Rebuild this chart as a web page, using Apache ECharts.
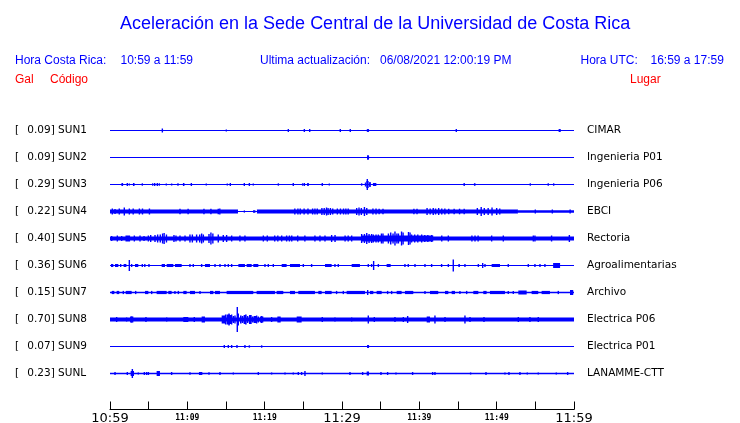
<!DOCTYPE html>
<html>
<head>
<meta charset="utf-8">
<script src="https://cdn.jsdelivr.net/npm/echarts@6/dist/echarts.min.js"></script>
<style>html,body{margin:0;padding:0;background:#fff;}#c{width:740px;height:423px;}</style>
</head>
<body>
<div id="c"></div>
<script>
// ---- labels ----
const gal = ['0.09','0.09','0.29','0.22','0.40','0.36','0.15','0.70','0.07','0.23'];
const codes = ['SUN1','SUN2','SUN3','SUN4','SUN5','SUN6','SUN7','SUN8','SUN9','SUNL'];
const places = ['CIMAR','Ingenieria P01','Ingenieria P06','EBCI','Rectoria','Agroalimentarias','Archivo','Electrica P06','Electrica P01','LANAMME-CTT'];
const tickLabels = ['10:59','11:09','11:19','11:29','11:39','11:49','11:59']; // every 10 min
// time axis: minutes after 10:59 (0..60)

// baseline trace thickness (relative amplitude units)
const baseWidth = [1, 1, 1.2, 1.2, 4.2, 1.2, 1.6, 4.2, 1, 1.3];

// bands: [startMin, endMin, halfAmplitude]
const sun1Bands = [[33.2,33.5,1.2],[58.0,58.3,1.2]];
const sun2Bands = [[33.25,33.5,1.5]];
const sun3Bands = [[1.5,1.7,1.2],[3.0,3.15,1.2],[9.45,9.6,1.2],[25.5,25.7,1.2],[32.95,33.1,2],[33.15,33.45,3.5],[33.5,33.7,2],[34.0,34.4,1.5],[47.1,47.25,1]];
const sun4Bands = [[0,16.55,2.1],[17.3,17.4,1.2],[18.5,18.8,1.3],[19.0,52.75,2.1],[52.75,60,1.3]];
const sun5Bands = [[2.0,2.6,3],[32.5,41.8,3]];
const sun6Bands = [[0.13,0.43,1.5],[0.65,1.08,1.5],[3.23,3.66,1.5],[6.68,7.11,1.5],[7.33,8.19,1.5],[8.4,9.27,1.5],[12.28,12.93,1.5],[16.6,17.45,1.5],[17.67,18.32,1.5],[18.53,19.18,1.5],[22.2,22.84,1.5],[23.27,24.57,1.5],[27.8,28.66,1.5],[31.25,32.32,1.5],[35.77,36.29,1.5],[45.04,45.25,1.5],[49.35,50.43,1.5],[57.3,58.2,2.5]];
const sun7Bands = [[0.22,0.56,1.6],[0.86,1.2,1.6],[2.03,2.8,1.6],[4.53,4.96,1.6],[6.03,7.33,1.6],[7.54,7.97,1.6],[9.48,9.91,1.6],[10.34,10.99,1.6],[12.93,13.36,1.6],[13.58,14.22,1.6],[15.08,18.53,1.6],[18.96,21.33,1.6],[21.55,22.41,1.6],[23.27,23.92,1.6],[24.35,26.5,1.6],[26.94,27.37,1.6],[27.8,28.66,1.6],[30.6,32.97,1.6],[33.62,34.05,1.6],[34.48,35.13,1.6],[37.07,37.71,1.6],[38.14,39.22,1.6],[41.38,42.45,1.6],[43.32,43.75,1.6],[44.18,44.61,1.6],[46.98,47.63,1.6],[48.27,48.7,1.6],[49.13,51.07,1.6],[52.8,53.88,2],[54.52,55.38,1.6],[55.81,56.89,1.6],[59.48,59.9,2.5]];
const sun8Bands = [[2.59,3.02,3],[9.48,10.13,2.5],[11.85,12.28,3],[14.44,14.87,4],[15.08,15.52,5],[16.81,17.02,4],[17.45,17.67,5],[17.97,18.32,4.5],[19.4,19.83,3],[21.64,22.07,3],[24.14,24.78,3],[40.95,41.38,3]];
const sun9Bands = [[33.25,33.5,1.5]];
const sunLBands = [[2.67,3.1,2.5],[6.03,6.46,2.5],[11.5,11.94,1.5],[33.19,33.49,2]];

// spikes: [minute, halfAmplitude]
const sun1Spikes = [[6.77,2],[15.04,1],[23.06,1.5],[25.13,1.5],[25.82,1.5],[29.78,1.5],[31.07,1.5],[33.36,1.5],[44.78,1.5],[58.14,1.5]];
const sun2Spikes = [[33.36,2.5]];
const sun3Spikes = [[1.59,1.5],[2.24,1.5],[2.5,1],[3.06,1.5],[4.18,1.2],[5.52,1.2],[5.78,1.5],[6.12,1.5],[6.38,1.2],[7.28,1],[7.97,1],[8.79,1.2],[9.52,1.5],[10.52,1.5],[12.45,1],[15.17,1],[15.56,1.5],[17.37,1.5],[18.02,1.5],[18.53,1],[21.77,1.2],[23.7,1.5],[24.91,1.2],[25.13,1.5],[25.6,1.5],[27.45,1.5],[28.36,1],[32.54,1.2],[33.27,5.5],[33.62,2.5],[34.35,1.5],[45.8,1.5],[47.15,1.2],[54.35,1.2],[56.67,1.2],[57.37,1.2]];
const sun4Spikes = [[0.3,3],[0.65,2.5],[1.2,3],[1.85,4],[2.5,3],[3.0,3],[3.8,3],[4.2,3],[5.1,3],[9.05,2.8],[10.1,2.8],[12.15,2.8],[13.05,2.8],[14.0,2.8],[14.2,3],
  [23.9,3],[24.3,3],[24.6,3],[25.1,3],[25.6,3],[26.2,3],[26.5,3],[26.8,3],[27.4,3.5],[27.7,3.5],[28.0,4],[28.2,3.5],[28.5,3.5],[28.8,3],[29.4,3],[29.8,3],[30.2,3],[30.5,3],[30.8,3],
  [31.9,3.5],[32.2,4],[32.5,3.5],[32.9,4.5],[33.2,3.5],[34.0,3],[34.4,3],[34.8,2.8],[35.3,2.8],[39.3,2.8],[39.7,2.8],
  [41.0,3.5],[41.4,3],[41.8,3.5],[42.1,3],[42.5,3.5],[42.9,3],[43.3,3],[43.8,2.8],[44.5,2.8],[45.2,2.8],[45.8,2.8],
  [47.5,3.5],[48.0,4.5],[48.4,3.5],[48.9,3.5],[49.4,4],[50.0,3.5],[50.4,3],[55.0,2],[57.2,2],[59.5,2]];
const sun5Spikes = [[0.22,2.5],[0.95,3],[1.51,2.5],[3.15,3],[3.88,3],[4.4,2.5],[4.96,3],[5.26,3.5],[5.82,3.5],[6.16,4],[6.5,4],[6.8,5],[7.0,5.5],[7.3,4],[8.27,3.5],[8.53,3],[9.05,3],[9.7,3],[10.34,4],[10.65,4],
  [11.2,4],[11.6,4],[11.85,5],[12.07,4],[12.8,4.5],[13.05,6],[13.3,5],[14.0,4],[14.65,3.5],[15.08,3.5],[15.73,3],[16.8,3],[17.45,3],[19.83,3],[20.34,3],[21.3,3],[21.7,3],[22.2,3],[22.84,3],[23.2,3],[23.5,3],
  [24.27,3],[25.2,3],[26.5,3],[27.15,3],[27.8,3],[28.66,3.5],[29.1,3.5],[30.4,3],[30.8,3],[31.25,3],[32.54,4.5],[32.9,4.5],[33.2,5.5],[33.5,4.5],[33.83,4.5],[34.05,4],[34.4,4],[34.7,4],[35.1,5],[35.3,5],
  [36.0,5],[36.3,6],[36.6,5],[36.85,7],[37.1,5],[37.3,5],[37.7,7],[37.9,6],[38.6,6.5],[38.8,6],[39.0,4],[39.4,4],[39.8,4],[40.3,4],[40.7,3.5],[41.1,3.5],[41.6,3.5],
  [42.9,3],[43.75,3],[46.8,3],[47.2,3],[47.6,3],[49.35,3],[50.86,3],[54.74,3],[54.95,3],[57.1,3],[59.4,3.5]];
const sun6Spikes = [[1.38,1.5],[1.85,1.5],[2.03,1.5],[2.5,5.5],[2.8,1.5],[4.18,1.5],[4.5,1.5],[5.04,1.5],[10.34,1.5],[10.77,1.5],[11.85,1.5],[13.58,1.5],[14.22,1.5],[14.87,1.5],[15.3,1.5],[15.73,1.5],[20.04,1.5],[20.47,1.5],[21.12,1.5],[25.0,1.5],[26.07,1.5],[29.09,1.5],[29.52,1.5],
  [33.4,1.5],[33.83,1.5],[34.09,4.5],[34.7,1.5],[38.14,1.5],[38.57,1.5],[39.44,1.5],[40.73,1.5],[41.59,1.5],[42.88,1.5],[43.75,1.5],[44.39,6],[45.9,1.5],[47.63,1.5],[48.19,2.5],[48.49,1.5],[51.5,1.5],[54.09,1.5],[54.95,1.5],[55.6,1.5],[56.24,1.5]];
const sun7Spikes = [[1.72,1.6],[3.32,1.6],[5.39,1.6],[8.4,1.6],[8.84,1.6],[11.64,1.6],[29.3,1.6],[30.17,1.6],[33.32,2.5],[35.9,1.6],[36.42,1.6],[40.73,1.6],[45.25,1.6],[46.12,1.6],[51.5,1.6],[52.15,1.6],[57.97,1.6]];
const sun8Spikes = [[0.86,2.5],[2.15,2],[2.8,3],[4.65,2.5],[7.33,2],[10.9,2.5],[14.65,3.5],[14.95,5],[15.21,4],[15.39,6],[15.6,4.5],[15.73,5],[15.95,3.5],[16.16,4],[16.46,12.5],[16.59,6],[17.15,3.5],[17.37,4.5],[17.8,3.5],[18.15,4.5],[18.45,3],[18.66,3.5],[18.83,3.5],[18.96,4],[19.18,3],[19.61,3.5],
  [20.9,2.5],[27.45,2.5],[29.09,2],[31.25,2],[33.4,4],[34.18,2.5],[36.85,2.5],[37.93,2.5],[38.49,3.5],[42.02,4],[43.32,2.5],[45.9,4],[46.55,2.5],[48.36,2.5],[52.8,2.5],[54.3,2.5],[55.38,2.5]];
const sun9Spikes = [[14.78,1.5],[15.3,1.5],[15.73,1.5],[16.42,1.5],[17.45,1.5],[18.02,1.2],[19.61,1.2],[33.36,1.5]];
const sunLSpikes = [[0.65,1.5],[2.24,1.5],[2.89,4.5],[3.66,1],[4.44,1.5],[4.74,1.5],[4.96,1.5],[7.97,1.5],[10.34,1.2],[12.8,1.2],[14.22,1.5],[15.95,1],[19.18,1.5],[20.9,1],[22.63,1],[23.7,1],[24.35,1.5],[24.78,1.5],[25.21,2.5],[27.45,1],
  [31.03,1.5],[32.67,1.5],[35.04,1.5],[35.9,1.5],[36.98,1],[39.13,1.5],[41.72,1.5],[42.02,1.5],[46.63,1],[48.62,1.5],[51.07,1],[51.59,1.5],[53.01,1.5],[53.96,1],[55.38,1],[57.71,1],[59.18,1.5]];

const allBands = [sun1Bands,sun2Bands,sun3Bands,sun4Bands,sun5Bands,sun6Bands,sun7Bands,sun8Bands,sun9Bands,sunLBands];
const allSpikes = [sun1Spikes,sun2Spikes,sun3Spikes,sun4Spikes,sun5Spikes,sun6Spikes,sun7Spikes,sun8Spikes,sun9Spikes,sunLSpikes];

const BLUE = '#0000ff', RED = '#ff0000';
const ROW = 27;
const rowVal = r => ROW / 2 + ROW * r;

const bandItems = [], spikeItems = [];
allBands.forEach((arr, r) => arr.forEach(b => bandItems.push([b[0], b[1], b[2], r])));
allSpikes.forEach((arr, r) => arr.forEach(s => spikeItems.push([s[0], s[1], r])));

const series = [];
codes.forEach((c, r) => {
  series.push({
    type: 'line', name: c, xAxisIndex: 0, yAxisIndex: 0,
    data: [[0, rowVal(r)], [60, rowVal(r)]],
    symbol: 'none', silent: true, animation: false,
    lineStyle: { color: BLUE, width: baseWidth[r] }
  });
});
series.push({
  type: 'custom', xAxisIndex: 0, yAxisIndex: 0, silent: true, animation: false,
  data: bandItems,
  renderItem: (params, api) => {
    const yc = rowVal(api.value(3)), a = api.value(2);
    const p1 = api.coord([api.value(0), yc - a]);
    const p2 = api.coord([api.value(1), yc + a]);
    return { type: 'rect', shape: { x: p1[0], y: p1[1], width: Math.max(1, p2[0] - p1[0]), height: p2[1] - p1[1] }, style: { fill: BLUE } };
  }
});
series.push({
  type: 'custom', xAxisIndex: 0, yAxisIndex: 0, silent: true, animation: false,
  data: spikeItems,
  renderItem: (params, api) => {
    const yc = rowVal(api.value(2)), a = api.value(1);
    const p1 = api.coord([api.value(0), yc - a]);
    const p2 = api.coord([api.value(0), yc + a]);
    return { type: 'rect', shape: { x: p1[0] - 0.7, y: p1[1], width: 1.4, height: p2[1] - p1[1] }, style: { fill: BLUE } };
  }
});

const hdrFont = '12px "Liberation Sans", Arial, sans-serif';
const hdr = (text, x, y, color) => ({ type: 'text', x: x, y: y, silent: true,
  style: { text: text, fill: color, font: hdrFont, verticalAlign: 'middle', align: 'left' } });

const chart = echarts.init(document.getElementById('c'), null, { renderer: 'canvas' });
chart.setOption({
  animation: false,
  backgroundColor: '#fff',
  title: {
    text: 'Aceleración en la Sede Central de la Universidad de Costa Rica',
    left: 115, top: 10,
    textStyle: { color: BLUE, fontSize: 18, fontWeight: 'normal', fontFamily: '"Liberation Sans", Arial, sans-serif' }
  },
  graphic: [
    hdr('Hora Costa Rica:', 15, 61, BLUE),
    hdr('10:59 a 11:59', 120.5, 61, BLUE),
    hdr('Ultima actualización:', 260, 61, BLUE),
    hdr('06/08/2021 12:00:19 PM', 380, 61, BLUE),
    hdr('Hora UTC:', 580.5, 61, BLUE),
    hdr('16:59 a 17:59', 650.5, 61, BLUE),
    hdr('Gal', 15, 80, RED),
    hdr('Código', 50, 80, RED),
    hdr('Lugar', 630, 80, RED)
  ],
  grid: { left: 110, right: 166, top: 117, height: 270, containLabel: false, outerBoundsMode: 'none' },
  xAxis: {
    type: 'value', min: 0, max: 60, interval: 5, offset: 22.5, position: 'bottom',
    splitLine: { show: false },
    axisLine: { show: true, onZero: false, lineStyle: { color: '#000', width: 1 } },
    axisTick: { show: true, inside: true, length: 8, lineStyle: { color: '#000', width: 1 } },
    axisLabel: {
      margin: 2, color: '#000', showMinLabel: true, showMaxLabel: true, hideOverlap: false,
      formatter: v => {
        if (v % 10 !== 0) return '';
        const t = tickLabels[v / 10];
        return v % 30 === 0 ? '{big|' + t + '}' : '{small|' + t + '}';
      },
      rich: {
        big: { fontSize: 13, lineHeight: 14, fontFamily: '"DejaVu Sans"', color: '#000' },
        small: { fontSize: 8, lineHeight: 12, fontFamily: '"DejaVu Sans Mono"', fontWeight: 'bold', color: '#000' }
      }
    }
  },
  yAxis: [
    { type: 'value', min: 0, max: ROW * 10, inverse: true, show: false },
    {
      type: 'category', data: codes, inverse: true, position: 'left',
      axisLine: { show: false }, axisTick: { show: false }, splitLine: { show: false },
      axisLabel: {
        interval: 0, margin: 95, align: 'left', color: '#000',
        formatter: (v, i) => '{br|[}{v|' + gal[i] + '] ' + v + '}',
        rich: {
          br: { width: 12.3, fontSize: 10.5, fontFamily: '"DejaVu Sans"', color: '#000' },
          v: { fontSize: 10.5, fontFamily: '"DejaVu Sans"', color: '#000' }
        }
      }
    },
    {
      type: 'category', data: places, inverse: true, position: 'right',
      axisLine: { show: false }, axisTick: { show: false }, splitLine: { show: false },
      axisLabel: { interval: 0, margin: 13, align: 'left', color: '#000', fontSize: 10.5, fontFamily: '"DejaVu Sans"' }
    }
  ],
  series: series
});
</script>
</body>
</html>
